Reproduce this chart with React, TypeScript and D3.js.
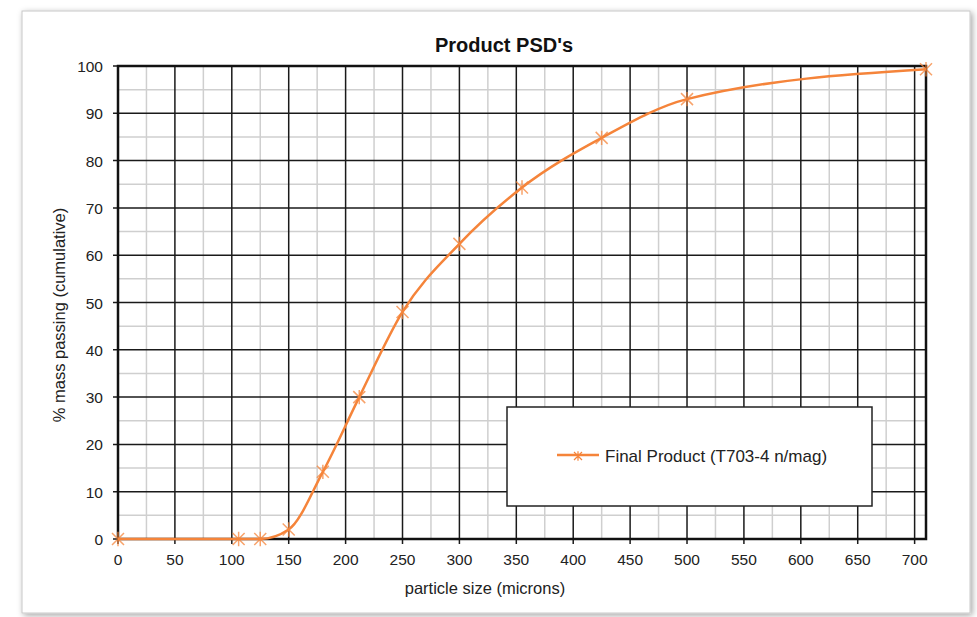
import { useEffect, useRef } from 'react'
import * as d3 from 'd3'

// sieve sizes (microns) and cumulative % passing
const sizes = [0, 106, 125, 150, 180, 212, 250, 300, 355, 425, 500, 710]
const passing = [0, 0, 0, 2, 14.2, 30, 48, 62.4, 74.3, 84.8, 93, 99.3]
const xTicks = [0, 50, 100, 150, 200, 250, 300, 350, 400, 450, 500, 550, 600, 650, 700]
const yTicks = [0, 10, 20, 30, 40, 50, 60, 70, 80, 90, 100]
const seriesName = 'Final Product (T703-4 n/mag)'

const ORANGE = '#F5843A'
const FONT = '"Liberation Sans", Arial, sans-serif'

export default function App() {
  const ref = useRef<SVGSVGElement>(null)

  useEffect(() => {
    if (!ref.current) return
    const svg = d3.select(ref.current)
    svg.selectAll('*').remove()

    const width = 977
    const height = 617
    const margin = { top: 66, right: 51, bottom: 78, left: 118 }
    const x = d3.scaleLinear().domain([0, 710]).range([margin.left, width - margin.right])
    const y = d3.scaleLinear().domain([0, 100]).range([height - margin.bottom, margin.top])

    const defs = svg.append('defs')
    const f = defs.append('filter').attr('id', 'shadow').attr('x', '-5%').attr('y', '-5%').attr('width', '110%').attr('height', '110%')
    f.append('feDropShadow').attr('dx', 2).attr('dy', 2).attr('stdDeviation', 3).attr('flood-color', '#000').attr('flood-opacity', 0.35)

    // outer chart frame
    svg.append('rect')
      .attr('x', 22).attr('y', 11).attr('width', 948).attr('height', 602)
      .attr('fill', '#fff').attr('stroke', '#c8c8c8').attr('filter', 'url(#shadow)')

    const [x0, x1] = x.range()
    const [y0, y1] = y.range()

    // minor grid
    const g = svg.append('g')
    d3.range(25, 710, 50).forEach((v) => {
      g.append('line').attr('x1', x(v)).attr('x2', x(v)).attr('y1', y0).attr('y2', y1)
        .attr('stroke', '#cfcfcf').attr('stroke-width', 1.5)
    })
    d3.range(5, 100, 10).forEach((v) => {
      g.append('line').attr('x1', x0).attr('x2', x1).attr('y1', y(v)).attr('y2', y(v))
        .attr('stroke', '#cfcfcf').attr('stroke-width', 1.5)
    })
    // major grid
    xTicks.forEach((v) => {
      g.append('line').attr('x1', x(v)).attr('x2', x(v)).attr('y1', y0 + 5).attr('y2', y1)
        .attr('stroke', '#1a1a1a').attr('stroke-width', 1.5)
    })
    yTicks.forEach((v) => {
      g.append('line').attr('x1', x0 - 5).attr('x2', x1).attr('y1', y(v)).attr('y2', y(v))
        .attr('stroke', '#1a1a1a').attr('stroke-width', 1.5)
    })
    // plot border
    g.append('rect').attr('x', x0).attr('y', y1).attr('width', x1 - x0).attr('height', y0 - y1)
      .attr('fill', 'none').attr('stroke', '#111').attr('stroke-width', 2.5)

    // tick labels
    xTicks.forEach((v) => {
      svg.append('text').attr('x', x(v)).attr('y', y0 + 26).attr('text-anchor', 'middle')
        .attr('font-family', FONT).attr('font-size', 15.5).attr('fill', '#222').text(v)
    })
    yTicks.forEach((v) => {
      svg.append('text').attr('x', x0 - 15).attr('y', y(v) + 6).attr('text-anchor', 'end')
        .attr('font-family', FONT).attr('font-size', 15.5).attr('fill', '#222').text(v)
    })

    // titles
    svg.append('text').attr('x', 504).attr('y', 52).attr('text-anchor', 'middle')
      .attr('font-family', FONT).attr('font-size', 20).attr('font-weight', 'bold').attr('fill', '#111')
      .text("Product PSD's")
    svg.append('text').attr('x', 485).attr('y', 594).attr('text-anchor', 'middle')
      .attr('font-family', FONT).attr('font-size', 16.5).attr('fill', '#222').text('particle size (microns)')
    svg.append('text').attr('transform', `translate(65,315) rotate(-90)`).attr('text-anchor', 'middle')
      .attr('font-family', FONT).attr('font-size', 16.5).attr('fill', '#222').text('% mass passing (cumulative)')

    // series
    const data = sizes.map((s, i) => ({ s, p: passing[i] }))
    const line = d3.line<{ s: number; p: number }>().x((d) => x(d.s)).y((d) => y(d.p)).curve(d3.curveMonotoneX)
    svg.append('path').datum(data).attr('d', line).attr('fill', 'none')
      .attr('stroke', ORANGE).attr('stroke-width', 2.5)

    const star = (r: number) => `M${-r},${-r}L${r},${r}M${-r},${r}L${r},${-r}M0,${-r * 1.2}L0,${r * 1.2}`
    data.forEach((d) => {
      svg.append('path').attr('d', star(6)).attr('transform', `translate(${x(d.s)},${y(d.p)})`)
        .attr('fill', 'none').attr('stroke', ORANGE).attr('stroke-opacity', 0.75).attr('stroke-width', 1.5)
    })

    // legend
    svg.append('rect').attr('x', 507).attr('y', 407).attr('width', 365).attr('height', 99)
      .attr('fill', '#fff').attr('stroke', '#222').attr('stroke-width', 1.5)
    svg.append('line').attr('x1', 557).attr('x2', 599).attr('y1', 455).attr('y2', 455)
      .attr('stroke', ORANGE).attr('stroke-width', 2.5)
    svg.append('path').attr('d', star(4)).attr('transform', 'translate(578,456)')
      .attr('fill', 'none').attr('stroke', ORANGE).attr('stroke-width', 1.2)
    svg.append('text').attr('x', 605).attr('y', 462).attr('font-family', FONT).attr('font-size', 17)
      .attr('fill', '#222').text(seriesName)
  }, [])

  return (
    <svg ref={ref} width={977} height={617} style={{ position: 'absolute', left: 0, top: 0, background: '#fff' }} />
  )
}
